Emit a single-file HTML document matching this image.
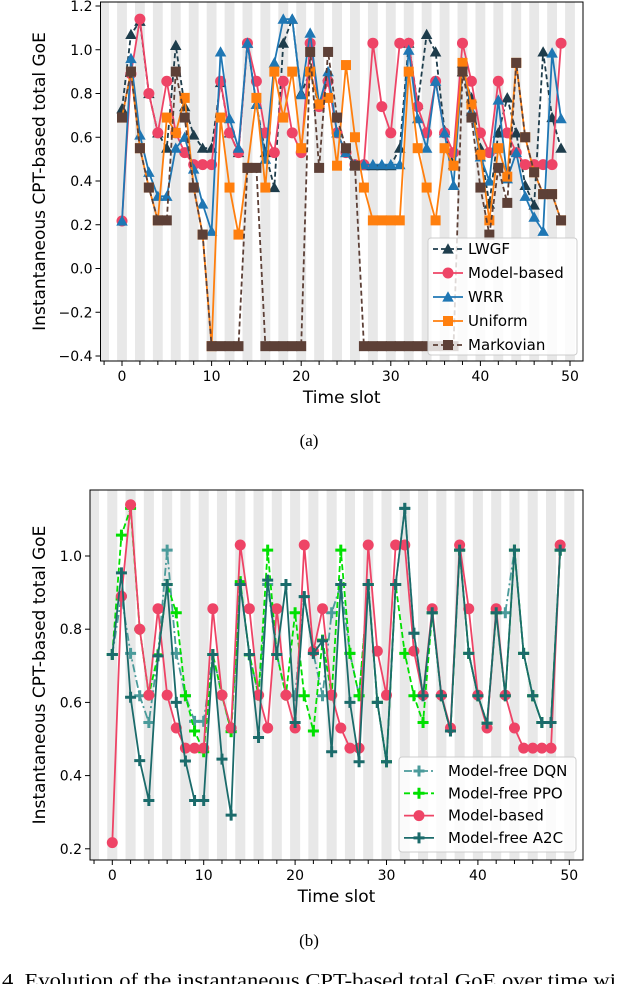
<!DOCTYPE html>
<html><head><meta charset="utf-8">
<style>
html,body{margin:0;padding:0;background:#fff;}
svg{display:block;}
text{font-family:"DejaVu Sans","Liberation Sans",sans-serif;fill:#000;}
.cap{font-family:"Liberation Serif",serif;}
</style></head>
<body>
<svg id="fig" width="618" height="984" viewBox="0 0 618 984" xmlns="http://www.w3.org/2000/svg"></svg>
<script>
// ---- data: top chart (a) ----
const slotsA = Array.from({length:50},(_,i)=>i);
const lwgf = [0.73,1.07,1.13,0.80,0.62,0.55,1.02,0.74,0.61,0.55, 0.55,0.85,0.62,0.53,1.03,0.75,0.53,0.37,1.03,1.14, 0.80,0.90,0.74,0.88,0.62,0.53,0.47,0.47,0.47,0.47, 0.47,0.55,1.03,0.75,1.07,0.99,0.63,0.475,0.90,0.78, 0.55,0.295,0.62,0.78,0.62,0.38,0.29,0.99,0.69,0.55];
const modelBased = [0.217,0.89,1.14,0.80,0.62,0.856,0.62,0.53,0.475,0.475, 0.475,0.856,0.62,0.53,1.03,0.856,0.62,0.53,0.856,0.62, 0.53,1.03,0.74,0.856,0.62,0.53,0.475,0.475,1.03,0.74, 0.62,1.03,1.03,0.74,0.62,0.856,0.62,0.53,1.03,0.856, 0.62,0.53,0.856,0.62,0.53,0.475,0.475,0.475,0.475,1.03];
const wrr = [0.217,0.96,0.61,0.44,0.33,0.33,0.55,0.60,0.455,0.295, 0.17,0.99,0.685,0.55,1.03,0.75,0.50,0.94,1.14,1.14, 0.795,1.076,0.75,0.90,0.62,0.53,0.475,0.475,0.475,0.475, 0.475,0.475,0.998,0.685,0.55,0.856,0.62,0.38,0.94,0.72, 0.51,0.40,0.77,0.41,0.53,0.33,0.235,0.17,0.985,0.685];
const uniform = [0.69,0.90,0.55,0.37,0.22,0.69,0.62,0.78,0.37,0.155, -0.355,0.69,0.37,0.155,0.46,0.78,0.37,0.90,0.69,0.90, 0.55,0.90,0.75,0.78,0.47,0.93,0.60,0.37,0.22,0.22, 0.22,0.22,0.90,0.55,0.37,0.22,0.55,0.47,0.94,0.75, 0.52,0.22,0.55,0.42,0.94,0.60,0.44,0.34,0.34,0.22];
const markovian = [0.69,0.90,0.55,0.37,0.22,0.22,0.90,0.69,0.37,0.155, -0.355,-0.355,-0.355,-0.355,0.46,0.46,-0.355,-0.355,-0.355,-0.355, -0.355,0.99,0.46,0.99,0.69,0.55,0.47,-0.355,-0.355,-0.355, -0.355,-0.355,-0.355,-0.355,-0.355,-0.355,-0.355,-0.355,0.90,0.69, 0.37,0.155,0.46,0.30,0.94,0.60,0.44,0.34,0.34,0.22];
const yTicksA = [-0.4,-0.2,0.0,0.2,0.4,0.6,0.8,1.0,1.2];
const xTickLabels = [0,10,20,30,40,50];
// ---- data: bottom chart (b) ----
const dqn = [0.731,0.89,0.734,0.618,0.545,0.73,1.016,0.734,0.618,0.548, 0.548,0.731,0.62,0.52,0.922,0.731,0.62,0.922,0.731,0.62, 0.618,0.889,0.734,0.618,0.845,0.922,0.734,0.618,0.922,0.60, 0.438,0.922,1.13,0.789,0.618,0.845,0.618,0.522,1.016,0.734, 0.618,0.543,0.845,0.845,1.016,0.734,0.618,0.545,0.545,1.016];
const ppo = [0.731,1.057,1.13,0.80,0.62,0.73,0.922,0.845,0.618,0.522, 0.465,0.731,0.62,0.52,0.93,0.73,0.62,1.016,0.731,0.62, 0.845,0.618,0.522,0.77,0.62,1.016,0.734,0.618,0.922,0.60, 0.438,0.922,0.734,0.618,0.545,0.845,0.618,0.522,1.016,0.734, 0.618,0.543,0.845,0.618,1.016,0.734,0.618,0.545,0.545,1.016];
const a2c = [0.731,0.954,0.614,0.441,0.332,0.727,0.922,0.600,0.44,0.332, 0.332,0.731,0.445,0.292,0.922,0.731,0.504,0.934,0.731,0.922, 0.545,0.889,0.734,0.768,0.465,0.922,0.60,0.438,0.922,0.60, 0.438,0.922,1.13,0.789,0.618,0.845,0.618,0.522,1.016,0.734, 0.618,0.543,0.845,0.618,1.016,0.734,0.618,0.545,0.545,1.016];
const yTicksB = [0.2,0.4,0.6,0.8,1.0];

const NS="http://www.w3.org/2000/svg";
const svg=document.getElementById('fig');
function el(tag,attrs,parent){const e=document.createElementNS(NS,tag);for(const k in attrs)e.setAttribute(k,attrs[k]);(parent||svg).appendChild(e);return e;}

function marker(g,type,x,y,color,size){
  let m;
  if(type==='circle'){m=el('circle',{cx:x,cy:y,r:size,fill:color},g);}
  else if(type==='tri'){const s=size*1.15;m=el('polygon',{points:`${x},${y-s} ${x-s},${y+s*0.8} ${x+s},${y+s*0.8}`,fill:color},g);}
  else if(type==='square'){m=el('rect',{x:x-size,y:y-size,width:size*2,height:size*2,fill:color},g);}
  else {m=el('path',{d:`M${x-size} ${y}H${x+size}M${x} ${y-size}V${y+size}`,stroke:color,'stroke-width':3,fill:'none'},g);}
  return m;
}

function drawChart(c){
  const X=v=>c.x0+v*c.xs, Y=v=>c.y0-v*c.ys;
  const g=el('g',{});
  
  
  const sg=el('g',{},g);
  
  
  for(let k=-2;k<=52;k+=2){
    const l=Math.max(c.L,X(k-0.55)), r=Math.min(c.R,X(k+0.55));
    if(r>l) el('rect',{x:l,y:c.T,width:r-l,height:c.B-c.T,fill:'#e8e8e8'},sg);
  }
  c.series.forEach(s=>{
    const sgp=el('g',{},g);
    
    
    const pts=s.data.map((v,i)=>X(c.slots[i])+','+Y(v)).join(' ');
    el('polyline',{points:pts,fill:'none',stroke:s.color,'stroke-width':1.8,'stroke-dasharray':s.dash||'none','stroke-linejoin':'round'},sgp);
    s.data.forEach((v,i)=>{const m=marker(sgp,s.mk,X(c.slots[i]),Y(v),s.color,s.ms||5.5);
      
      });
  });
  const fr=el('rect',{x:c.L,y:c.T,width:c.R-c.L,height:c.B-c.T,fill:'none',stroke:'#000','stroke-width':1},g);
  
  
  for(let k=-2;k<=50;k+=2){const x=X(k);if(x<c.L||x>c.R)continue;el('line',{x1:x,y1:c.B,x2:x,y2:c.B+(k%10===0?5:4),stroke:'#000'},g);}
  xTickLabels.forEach(k=>{const t=el('text',{x:X(k),y:c.B+20,'text-anchor':'middle','font-size':14},g);t.textContent=k;
    
    });
  c.yticks.forEach(v=>{const y=Y(v);el('line',{x1:c.L-5,y1:y,x2:c.L,y2:y,stroke:'#000'},g);
    const t=el('text',{x:c.L-8,y:y+5,'text-anchor':'end','font-size':14},g);t.textContent=(v<0?'\u2212':'')+Math.abs(v).toFixed(1);
    
    });
  const xt=el('text',{x:(c.L+c.R)/2,y:c.B+42,'text-anchor':'middle','font-size':17},g);xt.textContent='Time slot';
  
  
  const yc=(c.T+c.B)/2;
  const yt=el('text',{x:c.yTitleX,y:yc,'text-anchor':'middle','font-size':17,transform:`rotate(-90 ${c.yTitleX} ${yc})`},g);yt.textContent='Instantaneous CPT-based total GoE';
  
  
  const lg=el('g',{},g);
  
  
  el('rect',{x:c.lg.x,y:c.lg.y,width:c.lg.w,height:c.lg.h,rx:3,fill:'#fff','fill-opacity':0.8,stroke:'#ccc'},lg);
  c.legendOrder.forEach((s,i)=>{
    const y=c.lg.y+c.lg.first+i*c.lg.dy;
    const e=el('g',{},lg);
    
    
    el('line',{x1:c.lg.x+5,y1:y,x2:c.lg.x+35,y2:y,stroke:s.color,'stroke-width':1.8,'stroke-dasharray':s.dash||'none'},e);
    marker(e,s.mk,c.lg.x+20,y,s.color,s.ms||5.5);
    const t=el('text',{x:c.lg.x+c.lg.tx,y:y+5,'font-size':15},e);t.textContent=s.label;
  });
}

const sLWGF={id:'lwgf',label:'LWGF',data:lwgf,color:'#1e3d4c',mk:'tri',dash:'5,3',ms:5};
const sMB={id:'model-based',label:'Model-based',data:modelBased,color:'#ee4466',mk:'circle'};
const sWRR={id:'wrr',label:'WRR',data:wrr,color:'#1f77b4',mk:'tri',ms:5};
const sUni={id:'uniform',label:'Uniform',data:uniform,color:'#ff7f0e',mk:'square',ms:5};
const sMar={id:'markovian',label:'Markovian',data:markovian,color:'#5d4037',mk:'square',dash:'5,3',ms:5};
drawChart({name:'chart-a',slots:slotsA,x0:122,xs:8.96,y0:268.5,ys:218.75,L:100.5,R:583,T:2,B:361,yticks:yTicksA,yTitleX:45,
  series:[sLWGF,sMB,sWRR,sUni,sMar],legendOrder:[sLWGF,sMB,sWRR,sUni,sMar],
  lg:{x:428,y:238,w:149,h:117,first:11,dy:24,tx:40}});

const sDQN={id:'model-free-dqn',label:'Model-free DQN',data:dqn,color:'#4b9b9b',mk:'plus',dash:'8,3,2,3'};
const sPPO={id:'model-free-ppo',label:'Model-free PPO',data:ppo,color:'#00e000',mk:'plus',dash:'6,3'};
const sMB2={id:'model-based',label:'Model-based',data:modelBased,color:'#ee4466',mk:'circle'};
const sA2C={id:'model-free-a2c',label:'Model-free A2C',data:a2c,color:'#1b6b6b',mk:'plus'};
drawChart({name:'chart-b',slots:slotsA,x0:112.3,xs:9.14,y0:556+366,ys:366,L:90,R:583,T:490,B:860,yticks:yTicksB,yTitleX:45,
  series:[sDQN,sPPO,sMB2,sA2C],legendOrder:[sDQN,sPPO,sMB2,sA2C],
  lg:{x:399,y:757,w:177,h:95,first:14,dy:22.3,tx:49}});

function txt(x,y,s,size,cls,name){const t=el('text',{x:x,y:y,'font-size':size,'text-anchor':'middle'});if(cls)t.setAttribute('class',cls);t.textContent=s;
  
  return t;}
txt(309,446,'(a)',17,'cap','subfigure-label-a');
txt(309,946,'(b)',17,'cap','subfigure-label-b');
const cap=el('text',{x:2,y:987,'font-size':20,'class':'cap',textLength:614,lengthAdjust:'spacingAndGlyphs'});cap.textContent='4.  Evolution of the instantaneous CPT-based total GoE over time wi';


</script>
</body></html>
